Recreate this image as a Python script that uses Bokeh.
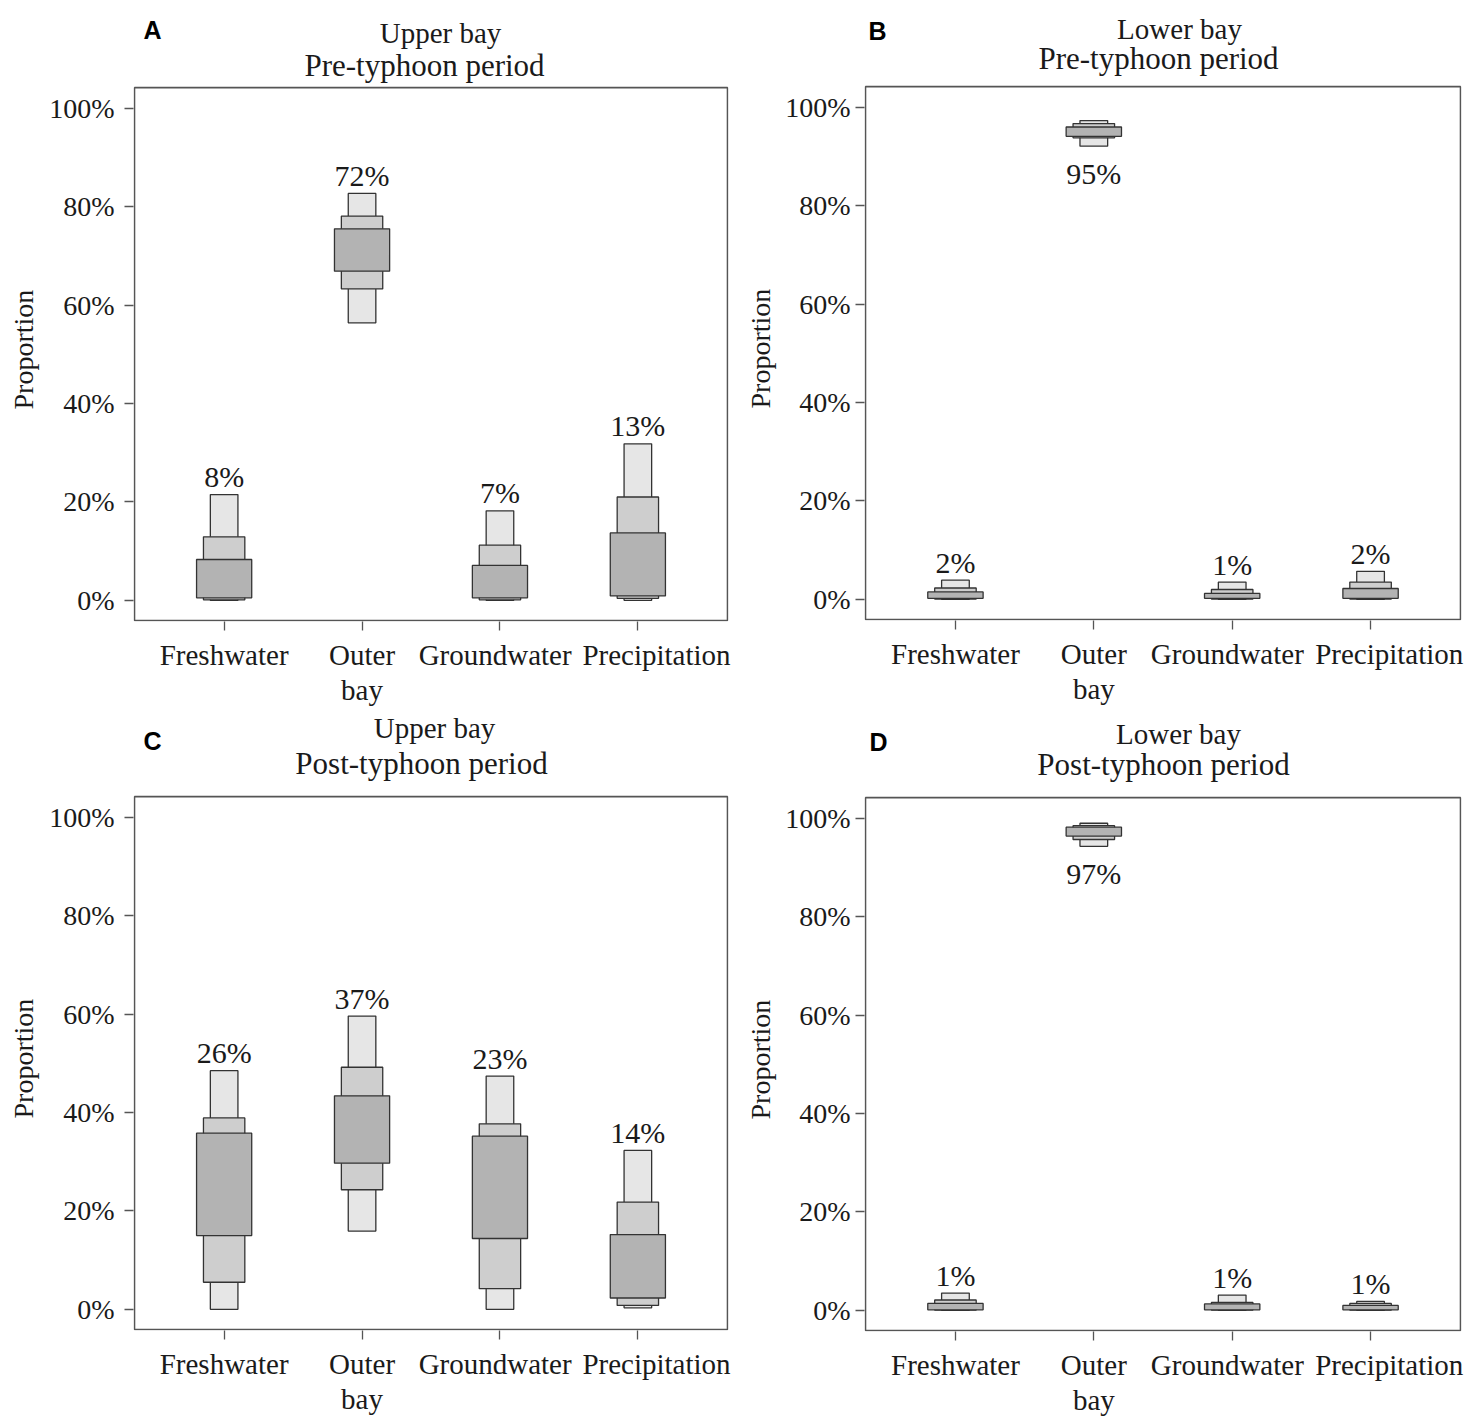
from bokeh.plotting import figure
from bokeh.models import (Range1d, FixedTicker, NumeralTickFormatter, Label, ColumnDataSource,
                          BoxAnnotation, LinearAxis, CustomJSTickFormatter, Title)
from bokeh.layouts import column, row
from bokeh.core.properties import value
from bokeh.embed import file_html
from bokeh.resources import INLINE

# ---------------- data (percent) ----------------
categories = ["Freshwater", "Outer bay", "Groundwater", "Precipitation"]
tick_text = ["Freshwater", "Outer\nbay", "Groundwater", "Precipitation"]
y_ticks = [0.0, 0.2, 0.4, 0.6, 0.8, 1.0]

# A: Upper bay, pre-typhoon
a_median = [8, 72, 7, 13]
a_lo95 = [0.0, 56.4, 0.0, 0.0]
a_hi95 = [21.5, 82.7, 18.2, 31.8]
a_lo75 = [0.1, 63.3, 0.1, 0.4]
a_hi75 = [12.9, 78.1, 11.2, 21.0]
a_lo50 = [0.5, 66.9, 0.5, 0.9]
a_hi50 = [8.3, 75.5, 7.1, 13.7]

# B: Lower bay, pre-typhoon
b_median = [2, 95, 1, 2]
b_lo95 = [0.0, 92.1, 0.0, 0.0]
b_hi95 = [3.9, 97.3, 3.5, 5.7]
b_lo75 = [0.05, 93.8, 0.05, 0.05]
b_hi75 = [2.3, 96.7, 2.0, 3.5]
b_lo50 = [0.2, 94.1, 0.2, 0.2]
b_hi50 = [1.5, 96.0, 1.2, 2.2]

# C: Upper bay, post-typhoon
c_median = [26, 37, 23, 14]
c_lo95 = [0.0, 15.9, 0.0, 0.3]
c_hi95 = [48.5, 59.6, 47.4, 32.3]
c_lo75 = [5.5, 24.3, 4.2, 0.8]
c_hi75 = [38.9, 49.2, 37.7, 21.8]
c_lo50 = [15.0, 29.7, 14.4, 2.3]
c_hi50 = [35.8, 43.4, 35.2, 15.2]

# D: Lower bay, post-typhoon
d_median = [1, 97, 1, 1]
d_lo95 = [0.0, 94.3, 0.0, 0.0]
d_hi95 = [3.5, 99.0, 3.1, 1.8]
d_lo75 = [0.05, 95.7, 0.05, 0.05]
d_hi75 = [2.1, 98.5, 1.6, 1.4]
d_lo50 = [0.1, 96.4, 0.1, 0.1]
d_hi50 = [1.4, 98.2, 1.3, 1.0]

# ---------------- style ----------------
SERIF = "Liberation Serif"
SANS = "Liberation Sans"
LIGHT, MID, DARK = "#e6e6e6", "#cecece", "#b3b3b3"
EDGE = "#333333"
FRAME = "#555555"
TXT = "#1a1a1a"
X0, X1 = 0.35, 4.65          # visible box, x
Y0, YB = -0.041, 1.042       # visible box, y
PY = 492.0                   # px per unit (y)
LABEL_SHIFT = [0.0, 0.0, -0.035, 0.135]


def make_panel(letter, line1, line2, med, lo95, hi95, lo75, hi75, lo50, hi50,
               box_w, extra_top, ml, mr, mb, ystand, tstand, t1, t2, tl):
    px = box_w / (X1 - X0)
    fw = box_w + 2
    fh = int(round((YB - Y0) * PY)) + 1 + extra_top
    y_lo = Y0 - 1 / PY
    y_hi = y_lo + fh / PY
    p = figure(frame_width=fw, frame_height=fh,
               x_range=Range1d(X0 - 1 / px, X1 + 1 / px), y_range=Range1d(y_lo, y_hi),
               output_backend="svg", toolbar_location=None,
               min_border_left=ml, min_border_top=0,
               min_border_right=mr, min_border_bottom=mb)
    p.background_fill_color = "white"
    p.border_fill_color = "white"
    p.xgrid.visible = False
    p.ygrid.visible = False
    p.outline_line_color = None

    p.add_layout(BoxAnnotation(left=X0, right=X1, bottom=Y0, top=YB,
                               fill_alpha=0, fill_color=None,
                               line_color=FRAME, line_alpha=1.0, line_width=1.6))

    xs = list(range(1, len(categories) + 1))
    src = ColumnDataSource(dict(
        x=xs,
        lo95=[v / 100 for v in lo95], hi95=[v / 100 for v in hi95],
        lo75=[v / 100 for v in lo75], hi75=[v / 100 for v in hi75],
        lo50=[v / 100 for v in lo50], hi50=[v / 100 for v in hi50],
    ))
    p.vbar(x="x", width=0.2, bottom="lo95", top="hi95", source=src,
           fill_color=LIGHT, line_color=EDGE, line_width=1.3)
    p.vbar(x="x", width=0.3, bottom="lo75", top="hi75", source=src,
           fill_color=MID, line_color=EDGE, line_width=1.3)
    p.vbar(x="x", width=0.4, bottom="lo50", top="hi50", source=src,
           fill_color=DARK, line_color=EDGE, line_width=1.3)

    ly = []
    for lo, hi in zip(lo95, hi95):
        if hi > 90:
            ly.append(lo / 100 - 27 / PY)
        else:
            ly.append(hi / 100 + 18 / PY)
    lsrc = ColumnDataSource(dict(x=xs, y=ly, t=[f"{m}%" for m in med]))
    p.text(x="x", y="y", text="t", source=lsrc, text_align="center",
           text_baseline="middle", text_font=value(SERIF),
           text_font_size="30px", text_color=TXT)

    # titles and panel letter (inside the extended frame, above the box)
    p.add_layout(Label(x=X0 + t1[0] / px, y=YB + t1[1] / PY, text=line1,
                       text_align="center", text_baseline="middle",
                       text_font=SERIF, text_font_size="29px", text_color=TXT))
    p.add_layout(Label(x=X0 + t2[0] / px, y=YB + t2[1] / PY, text=line2,
                       text_align="center", text_baseline="middle",
                       text_font=SERIF, text_font_size="31px", text_color=TXT))
    p.add_layout(Label(x=X0 + tl[0] / px, y=YB + tl[1] / PY, text=letter,
                       text_align="center", text_baseline="middle",
                       text_font=SANS, text_font_style="bold",
                       text_font_size="25px", text_color="#000000"))

    # x axis: tick marks only
    xa = p.xaxis[0]
    xa.ticker = FixedTicker(ticks=xs)
    xa.formatter = CustomJSTickFormatter(code="return ''")
    xa.major_label_text_font_size = "0px"
    xa.major_label_standoff = 0
    xa.axis_line_color = None
    xa.major_tick_line_color = "#555555"
    xa.major_tick_line_width = 1.3
    xa.major_tick_out = 9
    xa.major_tick_in = 0
    xa.minor_tick_out = 0
    xa.minor_tick_in = 0

    # x axis: category names (slightly offset as in the original figure)
    xl = LinearAxis(ticker=FixedTicker(ticks=[x + s for x, s in zip(xs, LABEL_SHIFT)]),
                    formatter=CustomJSTickFormatter(args=dict(labels=tick_text),
                                                    code="return labels[index]"))
    xl.axis_line_color = None
    xl.major_tick_out = 0
    xl.major_tick_in = 0
    xl.minor_tick_out = 0
    xl.minor_tick_in = 0
    xl.major_label_standoff = 8
    xl.major_label_text_font = SERIF
    xl.major_label_text_font_size = "29px"
    xl.major_label_text_color = TXT
    xl.major_label_text_line_height = 1.1
    p.add_layout(xl, "below")

    ya = p.yaxis[0]
    ya.ticker = FixedTicker(ticks=y_ticks)
    ya.formatter = NumeralTickFormatter(format="0%")
    ya.bounds = (Y0, YB)
    ya.axis_line_color = None
    ya.major_tick_line_color = "#555555"
    ya.major_tick_line_width = 1.3
    ya.major_tick_out = 9
    ya.major_tick_in = 0
    ya.minor_tick_out = 0
    ya.minor_tick_in = 0
    ya.major_label_text_font = SERIF
    ya.major_label_text_font_size = "28px"
    ya.major_label_text_color = TXT
    ya.major_label_standoff = ystand

    # y axis title, centred on the visible box rather than on the whole frame
    p.add_layout(Title(text="Proportion", align="left", offset=212,
                       vertical_align="top", standoff=tstand,
                       text_font=SERIF, text_font_size="28px",
                       text_font_style="normal", text_color=TXT), "left")
    return p


pA = make_panel("A", "Upper bay", "Pre-typhoon period",
                a_median, a_lo95, a_hi95, a_lo75, a_hi75, a_lo50, a_hi50,
                593, 87, 133, 12, 91, 10, 11, (306, 55), (290, 22.5), (18, 58))
pB = make_panel("B", "Lower bay", "Pre-typhoon period",
                b_median, b_lo95, b_hi95, b_lo75, b_hi75, b_lo50, b_hi50,
                595, 86, 122, 17, 92, 5, 9, (314, 57.5), (293, 28), (12, 56))
pC = make_panel("C", "Upper bay", "Post-typhoon period",
                c_median, c_lo95, c_hi95, c_lo75, c_hi75, c_lo50, c_hi50,
                593, 84, 133, 12, 91, 10, 11, (300, 69), (287, 33.5), (18, 56))
pD = make_panel("D", "Lower bay", "Post-typhoon period",
                d_median, d_lo95, d_hi95, d_lo75, d_hi75, d_lo50, d_hi50,
                595, 85, 122, 17, 90, 5, 9, (313, 63.5), (298, 33), (13, 56))

layout = column(row(pA, pB), row(pC, pD))
open("out.html", "w").write(file_html(layout, INLINE))
